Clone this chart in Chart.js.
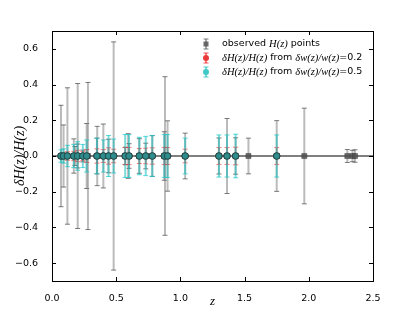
<!DOCTYPE html>
<html><head><meta charset="utf-8">
<script src="https://cdn.jsdelivr.net/npm/chart.js@4.4.0/dist/chart.umd.min.js"></script>
<style>html,body{margin:0;padding:0;background:#fff}#wrap{width:415px;height:313px}</style>
</head><body><div id="wrap"><canvas id="c"></canvas></div>
<script>
// observed H(z) points: redshift and relative error sigma_H/H
const obsZ   = [0.07,0.09,0.12,0.17,0.179,0.199,0.2,0.24,0.27,0.28,0.35,0.352,0.4,0.44,0.48,0.57,0.593,0.6,0.68,0.73,0.781,0.875,0.88,0.9,1.037,1.3,1.363,1.43,1.53,1.75,1.965,2.3,2.34,2.36];
const obsErr = [0.284,0.174,0.382,0.096,0.053,0.067,0.406,0.033,0.182,0.412,0.10,0.166,0.179,0.094,0.639,0.049,0.125,0.069,0.097,0.072,0.114,0.136,0.444,0.197,0.128,0.101,0.21,0.102,0.10,0.198,0.268,0.036,0.032,0.035];
// predicted dH/H points
const modZ   = [0.07,0.09,0.12,0.17,0.199,0.24,0.27,0.35,0.4,0.44,0.48,0.57,0.6,0.68,0.73,0.781,0.875,0.9,1.037,1.3,1.363,1.43,1.75];
const errW02 = [0.014,0.016,0.024,0.026,0.032,0.026,0.036,0.04,0.036,0.046,0.038,0.048,0.048,0.042,0.044,0.046,0.048,0.048,0.038,0.047,0.047,0.049,0.047];
const errW05 = [0.035,0.04,0.06,0.065,0.08,0.065,0.09,0.10,0.09,0.115,0.095,0.12,0.12,0.105,0.11,0.115,0.12,0.12,0.10,0.118,0.118,0.122,0.118];
const xTicks = [0,0.5,1,1.5,2,2.5];
const yTicks = [-0.6,-0.4,-0.2,0,0.2,0.4,0.6];
const xRange = [0,2.5];
const yRange = [-0.7,0.7];
const legendEntries = [
  [["observed ","s"],["H(z)","m"],[" points","s"]],
  [["\u03B4H(z)/H(z)","m"],[" from ","s"],["\u03B4w(z)/w(z)","m"],["=0.2","s"]],
  [["\u03B4H(z)/H(z)","m"],[" from ","s"],["\u03B4w(z)/w(z)","m"],["=0.5","s"]]
];

const pts = (zs) => zs.map(z => ({x: z, y: 0}));
const fmt = v => (Math.abs(v) < 1e-9 ? '0.0' : v.toFixed(1).replace('-', '\u2212'));

const SANS = '"DejaVu Sans", sans-serif';
const MATH = '"Liberation Serif", "DejaVu Serif", serif';

const errPlugin = {
  id: 'errbars',
  beforeDatasetDraw(chart, args) {
    const ds = chart.data.datasets[args.index];
    if (!ds.errs) return;
    const ctx = chart.ctx, xs = chart.scales.x, ys = chart.scales.y;
    ctx.save();
    ds.data.forEach((p, i) => {
      const e = ds.errs[i];
      const px = xs.getPixelForValue(p.x);
      const y1 = ys.getPixelForValue(p.y - e), y2 = ys.getPixelForValue(p.y + e);
      ctx.strokeStyle = ds.errColor; ctx.lineWidth = ds.errWidth;
      ctx.beginPath(); ctx.moveTo(px, y1); ctx.lineTo(px, y2); ctx.stroke();
      ctx.strokeStyle = ds.capColor; ctx.lineWidth = 1;
      ctx.beginPath();
      ctx.moveTo(px - 2.5, y1); ctx.lineTo(px + 2.5, y1);
      ctx.moveTo(px - 2.5, y2); ctx.lineTo(px + 2.5, y2);
      ctx.stroke();
    });
    ctx.restore();
  }
};

const framePlugin = {
  id: 'frame',
  afterDraw(chart) {
    const ctx = chart.ctx, a = chart.chartArea, xs = chart.scales.x, ys = chart.scales.y;
    ctx.save();
    ctx.strokeStyle = '#000'; ctx.lineWidth = 1;
    ctx.strokeRect(Math.round(a.left) + 0.5, Math.round(a.top) + 0.5, Math.round(a.right - a.left), Math.round(a.bottom - a.top));
    ctx.beginPath();
    xTicks.forEach(v => {
      const px = Math.round(xs.getPixelForValue(v)) + 0.5;
      ctx.moveTo(px, a.bottom); ctx.lineTo(px, a.bottom - 4);
      ctx.moveTo(px, a.top); ctx.lineTo(px, a.top + 4);
    });
    yTicks.forEach(v => {
      const py = Math.round(ys.getPixelForValue(v)) + 0.5;
      ctx.moveTo(a.left, py); ctx.lineTo(a.left + 4, py);
      ctx.moveTo(a.right, py); ctx.lineTo(a.right - 4, py);
    });
    ctx.stroke();

    // axis titles
    ctx.fillStyle = '#000';
    ctx.textAlign = 'center'; ctx.textBaseline = 'middle';
    ctx.font = 'italic 13px ' + MATH;
    ctx.fillText('z', (a.left + a.right) / 2, 302);
    ctx.save();
    ctx.translate(20, (a.top + a.bottom) / 2);
    ctx.rotate(-Math.PI / 2);
    ctx.font = 'italic 14px ' + MATH;
    ctx.fillText('\u03B4H(z)/H(z)', 0, 0);
    ctx.restore();

    // legend
    const rows = [44, 58, 72];
    const mk = [
      {bar: 'rgba(110,110,110,0.6)', cap: 'rgba(90,90,90,0.8)', fill: 'rgba(85,85,85,0.85)', shape: 'sq'},
      {bar: 'rgba(255,40,40,0.6)', cap: 'rgba(230,40,40,0.8)', fill: '#e83a3a', shape: 'c'},
      {bar: 'rgba(40,200,200,0.6)', cap: 'rgba(30,190,190,0.8)', fill: '#40c8c8', shape: 'c'}
    ];
    legendEntries.forEach((parts, i) => {
      const y = rows[i], mx = 206, m = mk[i];
      ctx.strokeStyle = m.bar; ctx.lineWidth = 2;
      ctx.beginPath(); ctx.moveTo(mx, y - 5); ctx.lineTo(mx, y + 5); ctx.stroke();
      ctx.strokeStyle = m.cap; ctx.lineWidth = 1;
      ctx.beginPath(); ctx.moveTo(mx - 2.5, y - 5); ctx.lineTo(mx + 2.5, y - 5);
      ctx.moveTo(mx - 2.5, y + 5); ctx.lineTo(mx + 2.5, y + 5); ctx.stroke();
      ctx.fillStyle = m.fill;
      if (m.shape === 'sq') { ctx.fillRect(mx - 2.5, y - 2.5, 5, 5); }
      else { ctx.beginPath(); ctx.arc(mx, y, 3, 0, Math.PI * 2); ctx.fill(); }
      let tx = 222;
      ctx.fillStyle = '#000'; ctx.textAlign = 'left'; ctx.textBaseline = 'middle';
      parts.forEach(([t, s]) => {
        ctx.font = s === 'm' ? 'italic 10.5px ' + MATH : '9.5px ' + SANS;
        ctx.fillText(t, tx, y);
        tx += ctx.measureText(t).width;
      });
    });
    ctx.restore();
  }
};

new Chart(document.getElementById('c'), {
  type: 'scatter',
  data: {
    datasets: [
      {label: 'zero', data: [{x: xRange[0], y: 0}, {x: xRange[1], y: 0}], showLine: true,
       borderColor: '#000', borderWidth: 1, pointRadius: 0, order: 4},
      {label: 'observed H(z) points', data: pts(obsZ), errs: obsErr,
       errColor: 'rgba(120,120,120,0.5)', errWidth: 2, capColor: 'rgba(70,70,70,0.7)',
       pointStyle: 'rect', pointRadius: 3.6, backgroundColor: 'rgba(80,80,80,0.85)', borderColor: 'rgba(60,60,60,0.9)', borderWidth: 0.5, order: 3},
      {label: 'w02', data: pts(modZ), errs: errW02,
       errColor: 'rgba(255,30,30,0.55)', errWidth: 1.5, capColor: 'rgba(255,30,30,0.6)',
       pointStyle: 'circle', pointRadius: 3.3, backgroundColor: '#c84040', borderColor: '#333', borderWidth: 0.8, order: 2},
      {label: 'w05', data: pts(modZ), errs: errW05,
       errColor: 'rgba(20,190,190,0.55)', errWidth: 2, capColor: 'rgba(20,200,200,0.7)',
       pointStyle: 'circle', pointRadius: 3.3, backgroundColor: '#2f8c8c', borderColor: '#1d3838', borderWidth: 0.8, order: 1}
    ]
  },
  options: {
    responsive: true, maintainAspectRatio: false, animation: false,
    layout: {padding: {left: 0, right: 42, top: 31, bottom: 0}},
    plugins: {legend: {display: false}, tooltip: {enabled: false}},
    scales: {
      x: {type: 'linear', min: xRange[0], max: xRange[1],
          afterBuildTicks: s => { s.ticks = xTicks.map(v => ({value: v})); },
          afterFit: s => { s.height = 32; },
          grid: {display: false}, border: {display: false},
          ticks: {callback: v => v.toFixed(1), font: {family: SANS, size: 9.5}, color: '#000', padding: 4, maxRotation: 0}},
      y: {type: 'linear', min: yRange[0], max: yRange[1],
          afterBuildTicks: s => { s.ticks = yTicks.map(v => ({value: v})); },
          afterFit: s => { s.width = 52; },
          grid: {display: false}, border: {display: false},
          ticks: {callback: v => fmt(v), font: {family: SANS, size: 9.5}, color: '#000', padding: 6}}
    }
  },
  plugins: [errPlugin, framePlugin]
});
</script></body></html>
